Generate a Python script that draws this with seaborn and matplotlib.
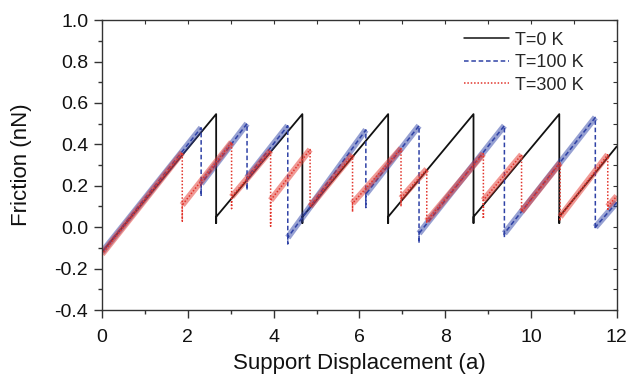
import matplotlib
matplotlib.use("Agg")
import matplotlib.pyplot as plt
from matplotlib.ticker import MultipleLocator, NullFormatter
import numpy as np
import pandas as pd
import seaborn as sns

# ---- stick-slip traces: slip positions, peak force before each slip,
# ---- lowest force reached during the slip and force where sticking resumes
x_end = 12.0

t0_start = [-0.12, -0.12, -0.12]          # value at x=0: top, floor, resume
t0_slip_x = [2.66, 4.67, 6.67, 8.66, 10.66]
t0_peak = [0.546, 0.546, 0.546, 0.546, 0.546]
t0_floor = [0.02, 0.02, 0.02, 0.02, 0.02]
t0_resume = [0.05, 0.05, 0.05, 0.05, 0.05]
t0_end = 0.39

t100_start = [0.0, -0.16, -0.12]
t100_slip_x = [2.31, 3.38, 4.33, 6.15, 7.39, 9.38, 11.50]
t100_peak = [0.48, 0.50, 0.49, 0.47, 0.49, 0.49, 0.53]
t100_floor = [0.15, 0.18, -0.08, 0.095, -0.076, -0.05, -0.01]
t100_resume = [0.21, 0.24, -0.05, 0.16, -0.03, -0.03, 0.0]
t100_end = 0.12

t300_start = [0.0, -0.14, -0.13]
t300_slip_x = [1.87, 3.02, 3.93, 4.85, 5.84, 6.97, 7.57, 8.89, 9.78, 10.68, 11.79]
t300_peak = [0.36, 0.41, 0.37, 0.375, 0.35, 0.38, 0.28, 0.355, 0.35, 0.31, 0.35]
t300_floor = [0.03, 0.09, 0.005, 0.10, 0.074, 0.10, 0.02, 0.04, 0.08, 0.03, 0.08]
t300_resume = [0.107, 0.146, 0.13, 0.10, 0.115, 0.14, 0.03, 0.13, 0.075, 0.05, 0.10]
t300_end = 0.15

labels = ["T=0 K", "T=100 K", "T=300 K"]
colors = ["#111111", "#2f42a6", "#e2352c"]
xticks = [0, 2, 4, 6, 8, 10, 12]
yticks = [-0.4, -0.2, 0.0, 0.2, 0.4, 0.6, 0.8, 1.0]


def trace(start, slips, peaks, floors, resumes, end):
    """Full path (with vertical slips) and the sticking segments alone."""
    xs = [0.0, 0.0, 0.0]
    ys = list(start)
    seg_x, seg_y, seg_id = [0.0], [start[2]], [0]
    for k, (sx, pk, fl, rs) in enumerate(zip(slips, peaks, floors, resumes)):
        xs += [sx, sx, sx]
        ys += [pk, fl, rs]
        seg_x += [sx, sx]
        seg_y += [pk, rs]
        seg_id += [k, k + 1]
    xs.append(x_end)
    ys.append(end)
    seg_x.append(x_end)
    seg_y.append(end)
    seg_id.append(len(slips))
    path = pd.DataFrame({"x": xs, "y": ys})
    band = pd.DataFrame({"x": seg_x, "y": seg_y, "seg": seg_id})
    return path, band


plt.rcParams["axes.unicode_minus"] = False
sns.set_style("ticks")
plt.rcParams["font.family"] = ["Liberation Sans", "DejaVu Sans"]

fig = plt.figure(figsize=(6.3, 3.79), dpi=100)
ax = fig.add_axes([0.162, 0.182, 0.817, 0.765])

p0, _ = trace(t0_start, t0_slip_x, t0_peak, t0_floor, t0_resume, t0_end)
p1, b1 = trace(t100_start, t100_slip_x, t100_peak, t100_floor, t100_resume, t100_end)
p2, b2 = trace(t300_start, t300_slip_x, t300_peak, t300_floor, t300_resume, t300_end)

# T = 0 K: clean sawtooth
sns.lineplot(data=p0, x="x", y="y", sort=False, estimator=None, color=colors[0],
             lw=1.3, ax=ax, label=labels[0])

# thermal traces: fuzzy band under the sticking parts, then the dashed/dotted line
sns.lineplot(data=b1, x="x", y="y", units="seg", sort=False, estimator=None,
             color=colors[1], lw=4.5, alpha=0.5, solid_capstyle="butt",
             ax=ax, legend=False)
sns.lineplot(data=p1, x="x", y="y", sort=False, estimator=None, color=colors[1],
             lw=1.1, dashes=False, ax=ax, label=labels[1])
ax.lines[-1].set_linestyle((0, (3.0, 1.8)))

sns.lineplot(data=b2, x="x", y="y", units="seg", sort=False, estimator=None,
             color=colors[2], lw=4.5, alpha=0.5, solid_capstyle="butt",
             ax=ax, legend=False)
sns.lineplot(data=p2, x="x", y="y", sort=False, estimator=None, color=colors[2],
             lw=1.1, dashes=False, ax=ax, label=labels[2])
ax.lines[-1].set_linestyle((0, (1.0, 1.2)))

ax.set_xlim(0, 12)
ax.set_ylim(-0.4, 1.0)
ax.set_xticks(xticks)
ax.set_yticks(yticks)
ax.set_xticklabels([f"{v:g}" for v in xticks])
ax.set_yticklabels([f"{v:.1f}" for v in yticks])
ax.xaxis.set_minor_locator(MultipleLocator(1))
ax.yaxis.set_minor_locator(MultipleLocator(0.1))
ax.tick_params(which="major", direction="out", length=6, width=1.0,
               color="#333333", labelsize=14, labelcolor="#111111")
ax.tick_params(which="minor", direction="out", length=3, width=1.0, color="#333333")
ax.tick_params(axis="x", which="major", pad=8)
ax.tick_params(axis="y", which="major", pad=4)

for side in ["left", "bottom", "top", "right"]:
    ax.spines[side].set_visible(True)
    ax.spines[side].set_color("#333333")
    ax.spines[side].set_linewidth(1.0)

top = ax.secondary_xaxis("top")
top.set_xticks(range(13))
top.xaxis.set_major_formatter(NullFormatter())
top.tick_params(direction="in", length=3, color="#333333")
top.spines["top"].set_visible(False)
right = ax.secondary_yaxis("right")
right.set_yticks(np.round(np.arange(-0.4, 1.01, 0.1), 1))
right.yaxis.set_major_formatter(NullFormatter())
right.tick_params(direction="in", length=3, color="#333333")
right.spines["right"].set_visible(False)

ax.set_xlabel("Support Displacement (a)", fontsize=16, color="#111111", labelpad=5)
ax.set_ylabel("Friction (nN)", fontsize=16, color="#111111", labelpad=16)

leg = ax.legend(loc="upper right", bbox_to_anchor=(0.935, 0.96), frameon=False,
                fontsize=13, handlelength=2.5, handletextpad=0.3,
                labelspacing=0.3, borderaxespad=0, borderpad=0)
for h in leg.get_lines():
    h.set_linewidth(1.1)

fig.savefig("out.png", dpi=100)
